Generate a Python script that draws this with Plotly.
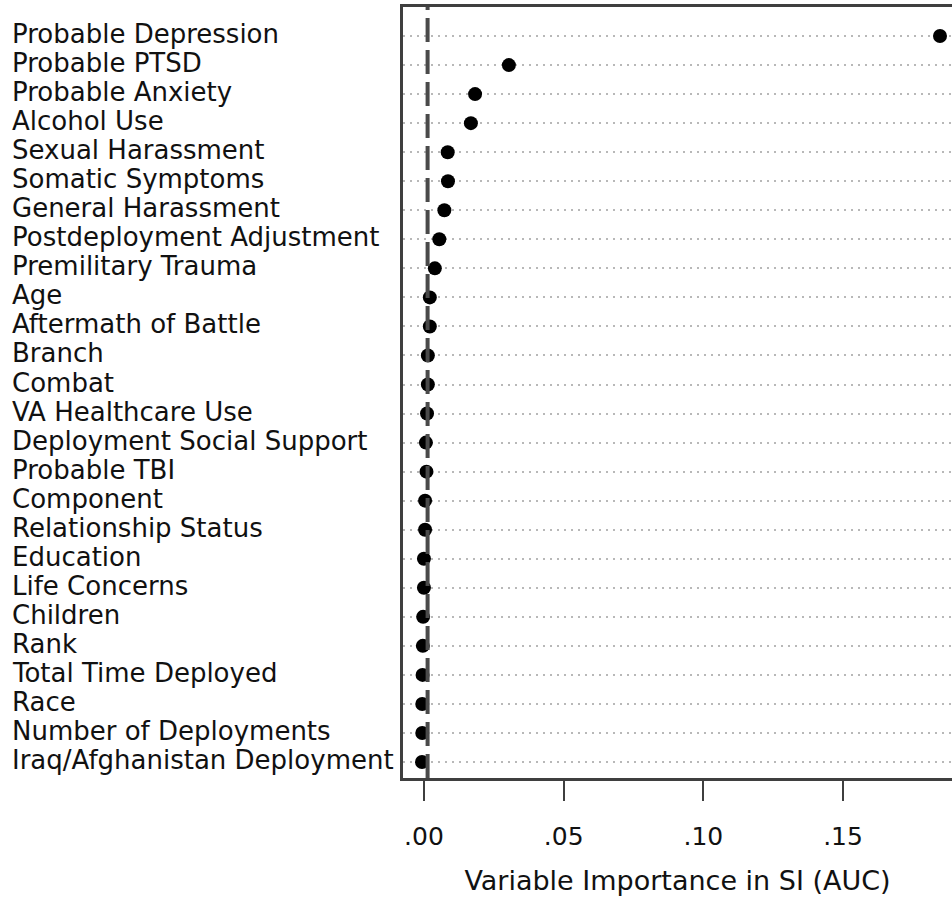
import plotly.graph_objects as go

categories = [
    "Probable Depression", "Probable PTSD", "Probable Anxiety", "Alcohol Use",
    "Sexual Harassment", "Somatic Symptoms", "General Harassment",
    "Postdeployment Adjustment", "Premilitary Trauma", "Age",
    "Aftermath of Battle", "Branch", "Combat", "VA Healthcare Use",
    "Deployment Social Support", "Probable TBI", "Component",
    "Relationship Status", "Education", "Life Concerns", "Children", "Rank",
    "Total Time Deployed", "Race", "Number of Deployments",
    "Iraq/Afghanistan Deployment",
]
importance = [
    0.1847, 0.0304, 0.0183, 0.0168, 0.0085, 0.0086, 0.0073, 0.0055, 0.0039,
    0.0021, 0.0021, 0.0014, 0.0014, 0.0011, 0.0007, 0.0009, 0.0004, 0.0004,
    0.0000, 0.0000, -0.0003, -0.0004, -0.0005, -0.0006, -0.0006, -0.0007,
]
reference_value = 0.0013
tick_values = [0.0, 0.05, 0.10, 0.15]
tick_labels = [".00", ".05", ".10", ".15"]
x_title = "Variable Importance in SI (AUC)"

W, H = 952, 901
L, R, T, B = 403, 0, 7, 123
plot_w = W - L - R

FONT = "DejaVu Sans"
AXIS_COLOR = "#3f3f3f"

fig = go.Figure()
fig.add_trace(go.Scatter(
    x=importance, y=categories, mode="markers",
    marker=dict(size=14, color="black"),
    hoverinfo="x+y", showlegend=False,
))

fig.add_shape(
    type="line", xref="x", yref="paper",
    x0=reference_value, x1=reference_value, y0=0, y1=1,
    line=dict(color="#4a4a4a", width=4, dash="24px,8px"),
    layer="above",
)

annotations = []
for c in categories:
    annotations.append(dict(
        x=(10 - L) / plot_w, xref="paper", y=c, yref="y",
        text=c, showarrow=False, xanchor="left", yanchor="middle",
        yshift=2,
        font=dict(family=FONT, size=26, color="#111111"),
    ))

fig.update_layout(
    width=W, height=H,
    margin=dict(l=L, r=R, t=T, b=B, pad=0),
    paper_bgcolor="white", plot_bgcolor="white",
    annotations=annotations,
    xaxis=dict(
        range=[-0.0075, 0.189],
        tickvals=tick_values, ticktext=tick_labels,
        ticks="outside", ticklen=20, tickwidth=2, tickcolor=AXIS_COLOR,
        ticklabelstandoff=14,
        showgrid=False, zeroline=False,
        showline=True, linecolor=AXIS_COLOR, linewidth=2.5, mirror=True,
        tickfont=dict(family=FONT, size=25, color="#111111"),
        title=dict(text=x_title, font=dict(family=FONT, size=27, color="#111111"),
                   standoff=22),
    ),
    yaxis=dict(
        type="category", categoryorder="array", categoryarray=categories,
        range=[25.55, -1.0],
        showticklabels=False, ticks="",
        showgrid=True, gridcolor="#b8b8b8", gridwidth=1.5, griddash="2px,5px",
        zeroline=False,
        showline=True, linecolor=AXIS_COLOR, linewidth=2.5, mirror=False,
    ),
)

fig.write_html("out.html")
